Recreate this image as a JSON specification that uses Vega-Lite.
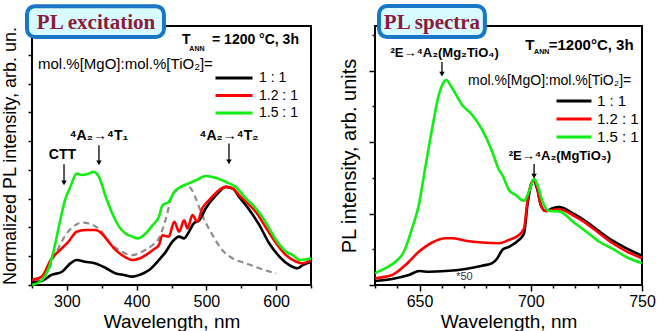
{
  "$schema": "https://vega.github.io/schema/vega-lite/v6.json",
  "padding": {"left": 0, "top": 2, "right": 5, "bottom": 5},
  "background": "white",
  "config": {
    "view": {"stroke": "black", "strokeWidth": 2},
    "axis": {"grid": false, "domain": false, "tickColor": "black", "tickWidth": 1.5, "labelColor": "black", "titleColor": "black", "labelFont": "Liberation Sans", "titleFont": "Liberation Sans", "titleFontWeight": "normal", "labelFlush": false},
    "text": {"font": "Liberation Sans", "color": "black"},
    "legend": {"labelFont": "Liberation Sans", "labelColor": "black"}
  },
  "datasets": {
    "exc": [
      {"wl":250,"val":0.09,"s":"1 : 1"},{"wl":264,"val":0.14,"s":"1 : 1"},{"wl":278,"val":0.35,"s":"1 : 1"},{"wl":293,"val":0.46,"s":"1 : 1"},{"wl":305,"val":0.75,"s":"1 : 1"},{"wl":314,"val":0.87,"s":"1 : 1"},{"wl":326,"val":0.81,"s":"1 : 1"},{"wl":341,"val":0.75,"s":"1 : 1"},{"wl":355,"val":0.6,"s":"1 : 1"},{"wl":370,"val":0.4,"s":"1 : 1"},{"wl":382,"val":0.35,"s":"1 : 1"},{"wl":394,"val":0.29,"s":"1 : 1"},{"wl":404,"val":0.35,"s":"1 : 1"},{"wl":418,"val":0.52,"s":"1 : 1"},{"wl":432,"val":0.87,"s":"1 : 1"},{"wl":442,"val":1.16,"s":"1 : 1"},{"wl":451,"val":1.5,"s":"1 : 1"},{"wl":461,"val":1.68,"s":"1 : 1"},{"wl":468,"val":1.62,"s":"1 : 1"},{"wl":475,"val":1.85,"s":"1 : 1"},{"wl":482,"val":2.14,"s":"1 : 1"},{"wl":490,"val":2.25,"s":"1 : 1"},{"wl":499,"val":2.66,"s":"1 : 1"},{"wl":514,"val":3.12,"s":"1 : 1"},{"wl":528,"val":3.41,"s":"1 : 1"},{"wl":538,"val":3.35,"s":"1 : 1"},{"wl":547,"val":3.06,"s":"1 : 1"},{"wl":562,"val":2.6,"s":"1 : 1"},{"wl":576,"val":2.08,"s":"1 : 1"},{"wl":590,"val":1.45,"s":"1 : 1"},{"wl":605,"val":0.98,"s":"1 : 1"},{"wl":619,"val":0.69,"s":"1 : 1"},{"wl":631,"val":0.58,"s":"1 : 1"},{"wl":638,"val":0.69,"s":"1 : 1"},{"wl":650,"val":0.81,"s":"1 : 1"},
      {"wl":250,"val":0.17,"s":"1.2 : 1"},{"wl":264,"val":0.29,"s":"1.2 : 1"},{"wl":278,"val":0.92,"s":"1.2 : 1"},{"wl":290,"val":1.21,"s":"1.2 : 1"},{"wl":302,"val":1.5,"s":"1.2 : 1"},{"wl":314,"val":1.85,"s":"1.2 : 1"},{"wl":326,"val":1.91,"s":"1.2 : 1"},{"wl":341,"val":1.91,"s":"1.2 : 1"},{"wl":350,"val":1.79,"s":"1.2 : 1"},{"wl":360,"val":1.5,"s":"1.2 : 1"},{"wl":370,"val":1.21,"s":"1.2 : 1"},{"wl":379,"val":1.04,"s":"1.2 : 1"},{"wl":394,"val":0.87,"s":"1.2 : 1"},{"wl":404,"val":0.92,"s":"1.2 : 1"},{"wl":413,"val":1.04,"s":"1.2 : 1"},{"wl":423,"val":1.21,"s":"1.2 : 1"},{"wl":432,"val":1.39,"s":"1.2 : 1"},{"wl":437,"val":1.73,"s":"1.2 : 1"},{"wl":446,"val":1.68,"s":"1.2 : 1"},{"wl":454,"val":2.2,"s":"1.2 : 1"},{"wl":461,"val":1.85,"s":"1.2 : 1"},{"wl":468,"val":2.25,"s":"1.2 : 1"},{"wl":473,"val":1.97,"s":"1.2 : 1"},{"wl":480,"val":2.43,"s":"1.2 : 1"},{"wl":487,"val":2.2,"s":"1.2 : 1"},{"wl":494,"val":2.66,"s":"1.2 : 1"},{"wl":504,"val":2.95,"s":"1.2 : 1"},{"wl":518,"val":3.29,"s":"1.2 : 1"},{"wl":528,"val":3.41,"s":"1.2 : 1"},{"wl":538,"val":3.35,"s":"1.2 : 1"},{"wl":547,"val":3.12,"s":"1.2 : 1"},{"wl":557,"val":2.89,"s":"1.2 : 1"},{"wl":571,"val":2.54,"s":"1.2 : 1"},{"wl":586,"val":1.97,"s":"1.2 : 1"},{"wl":600,"val":1.45,"s":"1.2 : 1"},{"wl":614,"val":1.04,"s":"1.2 : 1"},{"wl":629,"val":0.81,"s":"1.2 : 1"},{"wl":638,"val":0.75,"s":"1.2 : 1"},{"wl":650,"val":0.87,"s":"1.2 : 1"},
      {"wl":250,"val":0.0,"s":"1.5 : 1"},{"wl":264,"val":0.17,"s":"1.5 : 1"},{"wl":274,"val":0.58,"s":"1.5 : 1"},{"wl":283,"val":1.39,"s":"1.5 : 1"},{"wl":290,"val":2.2,"s":"1.5 : 1"},{"wl":298,"val":3.0,"s":"1.5 : 1"},{"wl":305,"val":3.41,"s":"1.5 : 1"},{"wl":314,"val":3.87,"s":"1.5 : 1"},{"wl":322,"val":3.82,"s":"1.5 : 1"},{"wl":331,"val":3.87,"s":"1.5 : 1"},{"wl":338,"val":3.93,"s":"1.5 : 1"},{"wl":346,"val":3.76,"s":"1.5 : 1"},{"wl":355,"val":3.12,"s":"1.5 : 1"},{"wl":365,"val":2.49,"s":"1.5 : 1"},{"wl":375,"val":2.02,"s":"1.5 : 1"},{"wl":384,"val":1.79,"s":"1.5 : 1"},{"wl":394,"val":1.68,"s":"1.5 : 1"},{"wl":401,"val":1.62,"s":"1.5 : 1"},{"wl":413,"val":1.79,"s":"1.5 : 1"},{"wl":423,"val":2.08,"s":"1.5 : 1"},{"wl":432,"val":2.37,"s":"1.5 : 1"},{"wl":437,"val":2.77,"s":"1.5 : 1"},{"wl":446,"val":2.89,"s":"1.5 : 1"},{"wl":454,"val":3.24,"s":"1.5 : 1"},{"wl":463,"val":3.41,"s":"1.5 : 1"},{"wl":475,"val":3.53,"s":"1.5 : 1"},{"wl":485,"val":3.64,"s":"1.5 : 1"},{"wl":499,"val":3.79,"s":"1.5 : 1"},{"wl":514,"val":3.72,"s":"1.5 : 1"},{"wl":528,"val":3.58,"s":"1.5 : 1"},{"wl":542,"val":3.41,"s":"1.5 : 1"},{"wl":557,"val":3.0,"s":"1.5 : 1"},{"wl":571,"val":2.66,"s":"1.5 : 1"},{"wl":586,"val":2.14,"s":"1.5 : 1"},{"wl":600,"val":1.56,"s":"1.5 : 1"},{"wl":614,"val":1.16,"s":"1.5 : 1"},{"wl":624,"val":1.04,"s":"1.5 : 1"},{"wl":634,"val":0.87,"s":"1.5 : 1"},{"wl":650,"val":0.92,"s":"1.5 : 1"}
    ],
    "excRef": [
      {"wl":252,"val":0.21},{"wl":269,"val":0.35},{"wl":283,"val":1.04},{"wl":298,"val":1.73},{"wl":312,"val":2.08},{"wl":322,"val":2.17},{"wl":336,"val":2.1},{"wl":350,"val":1.85},{"wl":360,"val":1.5},{"wl":375,"val":1.21},{"wl":394,"val":1.04},{"wl":408,"val":1.16},{"wl":423,"val":1.39},{"wl":432,"val":1.62},{"wl":442,"val":2.31},{"wl":451,"val":3.12},{"wl":461,"val":3.35},{"wl":470,"val":3.47},{"wl":478,"val":3.35},{"wl":485,"val":3.0},{"wl":494,"val":2.43},{"wl":509,"val":1.73},{"wl":523,"val":1.21},{"wl":538,"val":0.92},{"wl":557,"val":0.75},{"wl":576,"val":0.58},{"wl":600,"val":0.4}
    ],
    "em": [
      {"wl":630,"val":0.11,"s":"1 : 1"},{"wl":637.7,"val":0.17,"s":"1 : 1"},{"wl":645.2,"val":0.28,"s":"1 : 1"},{"wl":650,"val":0.39,"s":"1 : 1"},{"wl":654.2,"val":0.37,"s":"1 : 1"},{"wl":661.7,"val":0.39,"s":"1 : 1"},{"wl":670.7,"val":0.45,"s":"1 : 1"},{"wl":678.2,"val":0.54,"s":"1 : 1"},{"wl":682.7,"val":0.61,"s":"1 : 1"},{"wl":685,"val":0.75,"s":"1 : 1"},{"wl":687.2,"val":0.98,"s":"1 : 1"},{"wl":690.2,"val":1.07,"s":"1 : 1"},{"wl":694.7,"val":1.26,"s":"1 : 1"},{"wl":697,"val":1.45,"s":"1 : 1"},{"wl":698.5,"val":2.24,"s":"1 : 1"},{"wl":700,"val":2.76,"s":"1 : 1"},{"wl":701.2,"val":2.92,"s":"1 : 1"},{"wl":703,"val":2.66,"s":"1 : 1"},{"wl":704.5,"val":2.24,"s":"1 : 1"},{"wl":706.8,"val":2.07,"s":"1 : 1"},{"wl":709.8,"val":2.15,"s":"1 : 1"},{"wl":712.8,"val":2.18,"s":"1 : 1"},{"wl":718.8,"val":2.01,"s":"1 : 1"},{"wl":724.8,"val":1.78,"s":"1 : 1"},{"wl":730.8,"val":1.5,"s":"1 : 1"},{"wl":736.8,"val":1.24,"s":"1 : 1"},{"wl":742.8,"val":1.03,"s":"1 : 1"},{"wl":750,"val":0.82,"s":"1 : 1"},
      {"wl":630,"val":0.19,"s":"1.2 : 1"},{"wl":637.7,"val":0.28,"s":"1.2 : 1"},{"wl":643.7,"val":0.56,"s":"1.2 : 1"},{"wl":649.7,"val":0.93,"s":"1.2 : 1"},{"wl":655.7,"val":1.19,"s":"1.2 : 1"},{"wl":661.7,"val":1.31,"s":"1.2 : 1"},{"wl":664.7,"val":1.31,"s":"1.2 : 1"},{"wl":670.7,"val":1.24,"s":"1.2 : 1"},{"wl":678.2,"val":1.19,"s":"1.2 : 1"},{"wl":685.7,"val":1.17,"s":"1.2 : 1"},{"wl":690.2,"val":1.26,"s":"1.2 : 1"},{"wl":694.7,"val":1.4,"s":"1.2 : 1"},{"wl":697,"val":1.59,"s":"1.2 : 1"},{"wl":698.5,"val":2.34,"s":"1.2 : 1"},{"wl":700,"val":2.8,"s":"1.2 : 1"},{"wl":701.2,"val":2.94,"s":"1.2 : 1"},{"wl":703,"val":2.71,"s":"1.2 : 1"},{"wl":704.5,"val":2.24,"s":"1.2 : 1"},{"wl":706.8,"val":2.07,"s":"1.2 : 1"},{"wl":709.8,"val":2.1,"s":"1.2 : 1"},{"wl":712.8,"val":2.12,"s":"1.2 : 1"},{"wl":718.8,"val":1.96,"s":"1.2 : 1"},{"wl":724.8,"val":1.73,"s":"1.2 : 1"},{"wl":730.8,"val":1.45,"s":"1.2 : 1"},{"wl":736.8,"val":1.17,"s":"1.2 : 1"},{"wl":742.8,"val":0.95,"s":"1.2 : 1"},{"wl":750,"val":0.75,"s":"1.2 : 1"},
      {"wl":630,"val":0.33,"s":"1.5 : 1"},{"wl":634.7,"val":0.47,"s":"1.5 : 1"},{"wl":639.2,"val":0.65,"s":"1.5 : 1"},{"wl":643,"val":0.93,"s":"1.5 : 1"},{"wl":646.7,"val":1.59,"s":"1.5 : 1"},{"wl":649.7,"val":2.24,"s":"1.5 : 1"},{"wl":652.5,"val":3.25,"s":"1.5 : 1"},{"wl":655.7,"val":4.39,"s":"1.5 : 1"},{"wl":658.7,"val":5.32,"s":"1.5 : 1"},{"wl":661,"val":5.69,"s":"1.5 : 1"},{"wl":662,"val":5.74,"s":"1.5 : 1"},{"wl":664.7,"val":5.51,"s":"1.5 : 1"},{"wl":669.2,"val":5.04,"s":"1.5 : 1"},{"wl":673.7,"val":4.76,"s":"1.5 : 1"},{"wl":678.2,"val":4.34,"s":"1.5 : 1"},{"wl":682.7,"val":3.73,"s":"1.5 : 1"},{"wl":685.7,"val":3.22,"s":"1.5 : 1"},{"wl":687.2,"val":3.08,"s":"1.5 : 1"},{"wl":690.2,"val":2.66,"s":"1.5 : 1"},{"wl":693.2,"val":2.52,"s":"1.5 : 1"},{"wl":697,"val":2.36,"s":"1.5 : 1"},{"wl":699.2,"val":2.62,"s":"1.5 : 1"},{"wl":701.5,"val":2.97,"s":"1.5 : 1"},{"wl":703,"val":2.8,"s":"1.5 : 1"},{"wl":705.3,"val":2.34,"s":"1.5 : 1"},{"wl":708.3,"val":2.07,"s":"1.5 : 1"},{"wl":712.8,"val":2.06,"s":"1.5 : 1"},{"wl":718.8,"val":1.78,"s":"1.5 : 1"},{"wl":724.8,"val":1.5,"s":"1.5 : 1"},{"wl":730.8,"val":1.21,"s":"1.5 : 1"},{"wl":736.8,"val":1.01,"s":"1.5 : 1"},{"wl":742.8,"val":0.79,"s":"1.5 : 1"},{"wl":750,"val":0.61,"s":"1.5 : 1"}
    ],
    "annL": [
      {"role":"formula","wl":293.7,"val":4.39,"t":"CTT"},
      {"role":"formula","wl":346,"val":5.04,"t":"⁴A₂→⁴T₁"},
      {"role":"formula","wl":532.4,"val":5.04,"t":"⁴A₂→⁴T₂"},
      {"role":"head","wl":465,"val":8.36,"t":"T"},
      {"role":"sub","wl":475.6,"val":8.13,"t":"ANN"},
      {"role":"head","wl":508.1,"val":8.36,"t":"= 1200 °C, 3h"},
      {"role":"note","wl":258.6,"val":7.52,"t":"mol.%[MgO]:mol.%[TiO₂]="},
      {"role":"panel","wl":341.8,"val":8.88,"t":"PL excitation"}
    ],
    "arrL": [
      {"wl":295.9,"val":4.2,"val2":3.55},
      {"wl":346,"val":4.86,"val2":4.24},
      {"wl":532.4,"val":4.92,"val2":4.28}
    ],
    "boxL": [{"wl":242.8,"wl2":439.2,"val":9.69,"val2":8.62}],
    "annR": [
      {"role":"formula","wl":661.3,"val":6.38,"t":"²E→⁴A₂(Mg₂TiO₄)"},
      {"role":"formula","wl":713.1,"val":3.49,"t":"²E→⁴A₂(MgTiO₃)"},
      {"role":"head","wl":697.5,"val":6.57,"t":"T"},
      {"role":"sub","wl":701.5,"val":6.48,"t":"ANN"},
      {"role":"head","wl":708.1,"val":6.57,"t":"=1200°C, 3h"},
      {"role":"note","wl":671.8,"val":5.59,"t":"mol.%[MgO]:mol.%[TiO₂]="},
      {"role":"small","wl":670.2,"val":0.14,"t":"*50"},
      {"role":"panel","wl":655.6,"val":7.16,"t":"PL spectra"}
    ],
    "arrR": [
      {"wl":660.1,"val":6.24,"val2":5.9},
      {"wl":701.5,"val":3.39,"val2":3.05}
    ],
    "boxR": [{"wl":631.8,"wl2":679.4,"val":7.81,"val2":6.94}]
  },
  "resolve": {"scale": {"color": "independent"}, "legend": {"color": "independent"}},
  "spacing": 20,
  "hconcat": [
    {
      "width": 279,
      "height": 259,
      "encoding": {
        "x": {"field": "wl", "type": "quantitative", "scale": {"domain": [250, 650], "nice": false, "zero": false},
          "axis": {"title": "Wavelength, nm", "values": [250,300,350,400,450,500,550,600,650], "labelExpr": "datum.value % 100 === 0 ? datum.label : ''", "tickSize": {"condition": {"test": "datum.value % 100 === 0", "value": 5}, "value": 3}, "labelFontSize": 16, "titleFontSize": 19, "labelPadding": 3, "titlePadding": 3}},
        "y": {"field": "val", "type": "quantitative", "scale": {"domain": [0, 9], "nice": false, "zero": false},
          "axis": {"title": "Normalized PL intensity, arb. un.", "values": [0,1,2,3,4,5,6,7,8,9], "labels": false, "tickSize": 4, "titleFontSize": 18, "titlePadding": 8}}
      },
      "layer": [
        {"data": {"name": "excRef"}, "mark": {"type": "line", "color": "#8c8c8c", "strokeWidth": 2.2, "strokeDash": [6, 4], "interpolate": "monotone"}},
        {"data": {"name": "exc"}, "mark": {"type": "line", "strokeWidth": 2.6, "interpolate": "monotone"},
          "encoding": {"color": {"field": "s", "type": "nominal", "scale": {"domain": ["1 : 1", "1.2 : 1", "1.5 : 1"], "range": ["#000000", "#ff0000", "#11ee11"]},
            "legend": {"orient": "none", "legendX": 182, "legendY": 44, "title": null, "symbolType": "stroke", "symbolStrokeWidth": 3, "symbolSize": 1369, "clipHeight": 16, "rowPadding": 1.5, "labelFontSize": 14, "labelOffset": 5, "padding": 0}}}},
        {"data": {"name": "arrL"}, "mark": {"type": "rule", "color": "black", "strokeWidth": 1.3}, "encoding": {"y2": {"field": "val2"}}},
        {"data": {"name": "arrL"}, "mark": {"type": "point", "shape": "triangle-down", "filled": true, "color": "black", "size": 30, "opacity": 1}, "encoding": {"y": {"field": "val2", "type": "quantitative"}}},
        {"data": {"name": "annL"}, "transform": [{"filter": "datum.role === 'formula'"}], "mark": {"type": "text", "fontSize": 14, "fontWeight": "bold", "align": "center", "baseline": "alphabetic"}, "encoding": {"text": {"field": "t"}}},
        {"data": {"name": "annL"}, "transform": [{"filter": "datum.role === 'head'"}], "mark": {"type": "text", "fontSize": 14, "fontWeight": "bold", "align": "left", "baseline": "alphabetic"}, "encoding": {"text": {"field": "t"}}},
        {"data": {"name": "annL"}, "transform": [{"filter": "datum.role === 'sub'"}], "mark": {"type": "text", "fontSize": 7, "fontWeight": "bold", "align": "left", "baseline": "alphabetic"}, "encoding": {"text": {"field": "t"}}},
        {"data": {"name": "annL"}, "transform": [{"filter": "datum.role === 'note'"}], "mark": {"type": "text", "fontSize": 15, "align": "left", "baseline": "alphabetic"}, "encoding": {"text": {"field": "t"}}},
        {"data": {"name": "boxL"}, "mark": {"type": "rect", "fill": "#d8fbff", "stroke": "#1a76c6", "strokeWidth": 4, "cornerRadius": 8}, "encoding": {"x2": {"field": "wl2"}, "y2": {"field": "val2"}}},
        {"data": {"name": "annL"}, "transform": [{"filter": "datum.role === 'panel'"}], "mark": {"type": "text", "font": "Liberation Serif", "fontSize": 21, "fontWeight": "bold", "color": "#8b1a3c", "align": "center", "baseline": "alphabetic"}, "encoding": {"text": {"field": "t"}}}
      ]
    },
    {
      "width": 267,
      "height": 259,
      "encoding": {
        "x": {"field": "wl", "type": "quantitative", "scale": {"domain": [630, 750], "nice": false, "zero": false},
          "axis": {"title": "Wavelength, nm", "values": [630,640,650,660,670,680,690,700,710,720,730,740,750], "labelExpr": "datum.value % 50 === 0 ? datum.label : ''", "tickSize": {"condition": {"test": "datum.value % 50 === 0", "value": 6}, "value": 3}, "labelFontSize": 16, "titleFontSize": 19, "labelPadding": 2, "titlePadding": 3}},
        "y": {"field": "val", "type": "quantitative", "scale": {"domain": [0, 7.25], "nice": false, "zero": false},
          "axis": {"title": "PL intensity, arb. units", "values": [0,1,2,3,4,5,6,7], "labels": false, "tickSize": {"condition": {"test": "datum.value % 2 === 0", "value": 6}, "value": 3}, "titleFontSize": 20, "titlePadding": 9}}
      },
      "layer": [
        {"data": {"name": "em"}, "mark": {"type": "line", "strokeWidth": 2.6, "interpolate": "monotone"},
          "encoding": {"color": {"field": "s", "type": "nominal", "scale": {"domain": ["1 : 1", "1.2 : 1", "1.5 : 1"], "range": ["#000000", "#ff0000", "#11ee11"]},
            "legend": {"orient": "none", "legendX": 180, "legendY": 67, "title": null, "symbolType": "stroke", "symbolStrokeWidth": 3, "symbolSize": 1225, "clipHeight": 16, "rowPadding": 2, "labelFontSize": 15, "labelOffset": 4, "padding": 0}}}},
        {"data": {"name": "arrR"}, "mark": {"type": "rule", "color": "black", "strokeWidth": 1.3}, "encoding": {"y2": {"field": "val2"}}},
        {"data": {"name": "arrR"}, "mark": {"type": "point", "shape": "triangle-down", "filled": true, "color": "black", "size": 30, "opacity": 1}, "encoding": {"y": {"field": "val2", "type": "quantitative"}}},
        {"data": {"name": "annR"}, "transform": [{"filter": "datum.role === 'formula'"}], "mark": {"type": "text", "fontSize": 13, "fontWeight": "bold", "align": "center", "baseline": "alphabetic"}, "encoding": {"text": {"field": "t"}}},
        {"data": {"name": "annR"}, "transform": [{"filter": "datum.role === 'head'"}], "mark": {"type": "text", "fontSize": 15, "fontWeight": "bold", "align": "left", "baseline": "alphabetic"}, "encoding": {"text": {"field": "t"}}},
        {"data": {"name": "annR"}, "transform": [{"filter": "datum.role === 'sub'"}], "mark": {"type": "text", "fontSize": 7, "fontWeight": "bold", "align": "left", "baseline": "alphabetic"}, "encoding": {"text": {"field": "t"}}},
        {"data": {"name": "annR"}, "transform": [{"filter": "datum.role === 'note'"}], "mark": {"type": "text", "fontSize": 14, "align": "left", "baseline": "alphabetic"}, "encoding": {"text": {"field": "t"}}},
        {"data": {"name": "annR"}, "transform": [{"filter": "datum.role === 'small'"}], "mark": {"type": "text", "fontSize": 11, "color": "#333333", "align": "center", "baseline": "alphabetic"}, "encoding": {"text": {"field": "t"}}},
        {"data": {"name": "boxR"}, "mark": {"type": "rect", "fill": "#d8fbff", "stroke": "#1a76c6", "strokeWidth": 4, "cornerRadius": 8}, "encoding": {"x2": {"field": "wl2"}, "y2": {"field": "val2"}}},
        {"data": {"name": "annR"}, "transform": [{"filter": "datum.role === 'panel'"}], "mark": {"type": "text", "font": "Liberation Serif", "fontSize": 21, "fontWeight": "bold", "color": "#8b1a3c", "align": "center", "baseline": "alphabetic"}, "encoding": {"text": {"field": "t"}}}
      ]
    }
  ]
}
